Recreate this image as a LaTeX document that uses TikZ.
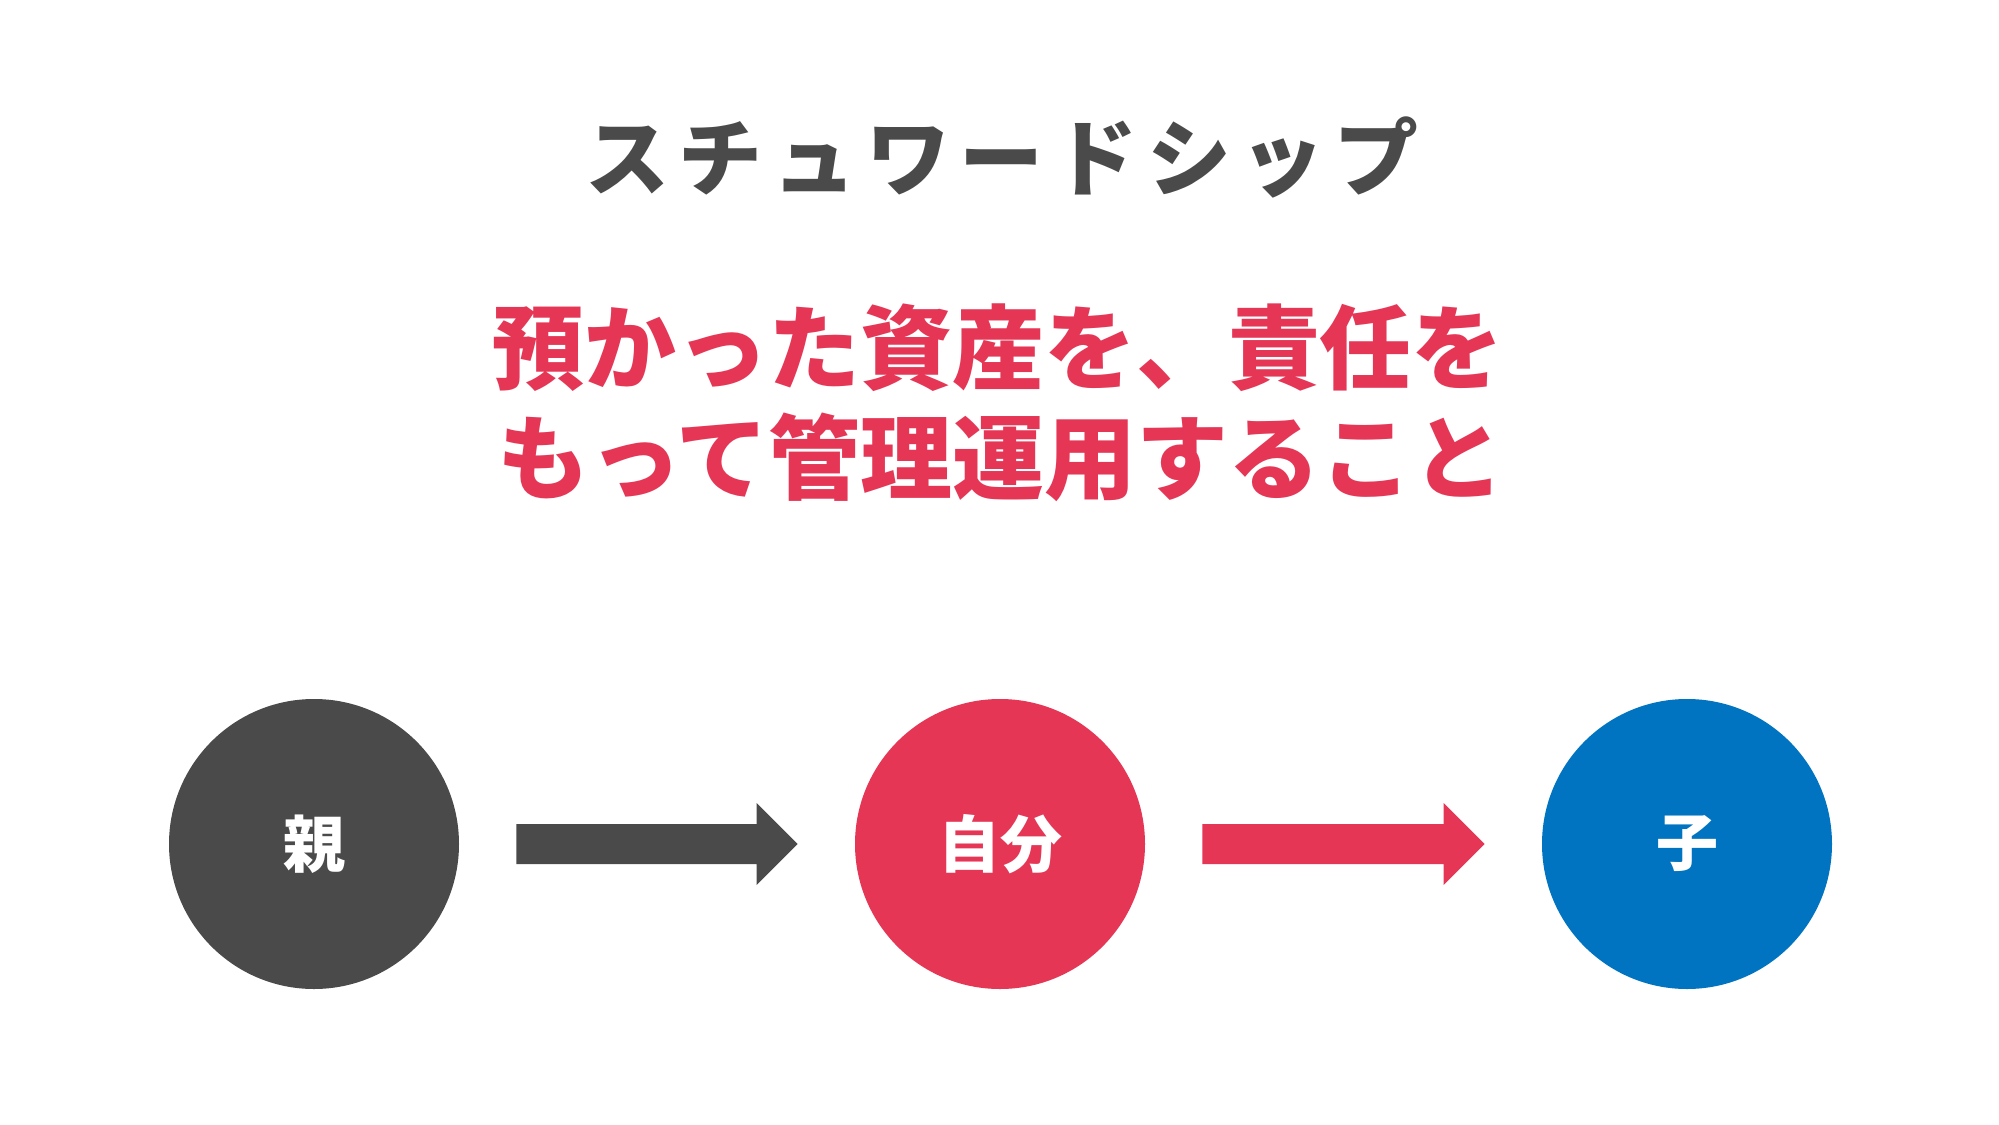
\documentclass[tikz,border=0pt]{standalone}
\usepackage{fontspec}
\usetikzlibrary{calc}
\newfontfamily\jp{Noto Sans CJK JP}
\newfontfamily\jpsp{Noto Sans CJK JP}[LetterSpace=11.5]
\definecolor{cgrey}{HTML}{4A4A4A}
\definecolor{cred}{HTML}{E63656}
\definecolor{cblue}{HTML}{0073C1}
\begin{document}
\begin{tikzpicture}[x=0.5pt,y=-0.5pt,
  circ/.style={circle,minimum size=145pt,inner sep=0pt,font=\jp\bfseries\fontsize{31}{31}\selectfont,text=white},
  redtext/.style={text=cred,font=\jp\bfseries\fontsize{46}{55}\selectfont}]
\useasboundingbox (0,0) rectangle (1999,1125);
\fill[white] (0,0) rectangle (1999,1125);
\node[text=cgrey,font=\jpsp\bfseries\fontsize{42}{42}\selectfont] (title) at (1002,157) {スチュワードシップ};
\node[redtext] (l1) at (998,348) {預かった資産を、責任を};
\node[redtext] (l2) at (1001,457) {もって管理運用すること};
\node[circ,fill=cgrey] (oya) at (314,844) {親};
\node[circ,fill=cred] (jibun) at (1000,844) {自分};
\node[circ,fill=cblue] (ko) at (1687,844) {子};
\newcommand{\blockarrow}[3]{%
  \coordinate (s) at ($(#1.east)+(57,0)$);
  \coordinate (t) at ($(#2.west)+(-57,0)$);
  \fill[#3] ($(s)+(0,-20)$) -- ($(t)+(-41,-20)$) -- ($(t)+(-41,-41)$) -- (t)
     -- ($(t)+(-41,41)$) -- ($(t)+(-41,20)$) -- ($(s)+(0,20)$) -- cycle;}
\blockarrow{oya}{jibun}{cgrey}
\blockarrow{jibun}{ko}{cred}
\end{tikzpicture}
\end{document}
